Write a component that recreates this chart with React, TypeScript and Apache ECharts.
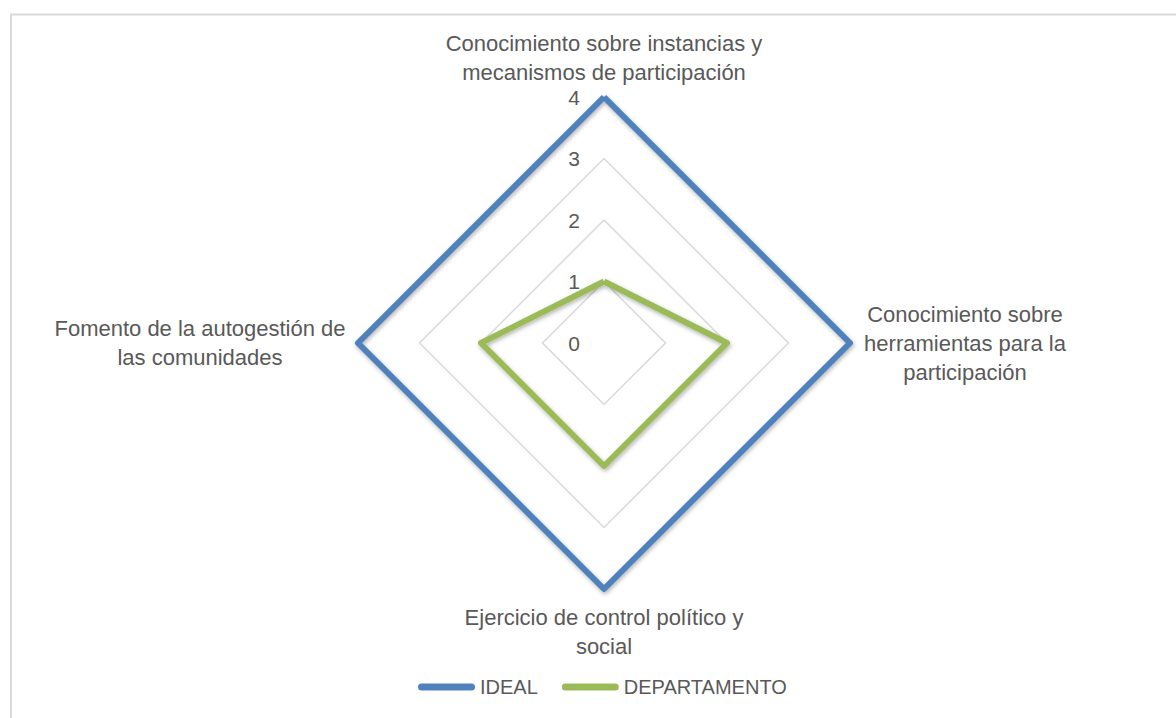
import React, { useEffect, useRef } from "react";
import * as echarts from "echarts";

// Categories in the order they appear clockwise from the top (as in the source chart)
const categories = [
  "Conocimiento sobre instancias y\nmecanismos de participación",
  "Conocimiento sobre\nherramientas para la\nparticipación",
  "Ejercicio de control político y\nsocial",
  "Fomento de la autogestión de\nlas comunidades",
];
const seriesNames = ["IDEAL", "DEPARTAMENTO"];
const idealValues = [4, 4, 4, 4];
const departamentoValues = [1, 2, 2, 2];
const axisMax = 4;
const axisTicks = ["0", "1", "2", "3", "4"];

const FONT = "'Liberation Sans', Arial, sans-serif";
const TEXT = "#595959";

// ECharts radar runs counter-clockwise; reorder so that the drawing runs clockwise
const order = [0, 3, 2, 1];
// per-category layout of the names (centred multi-line blocks)
const nameLayout = [
  { gap: 10 },
  { gap: 115 },
  { gap: 14 },
  { gap: 158 },
];

export default function App() {
  const ref = useRef<HTMLDivElement>(null);
  useEffect(() => {
    if (!ref.current) return;
    const chart = echarts.init(ref.current, undefined, { renderer: "svg" });
    const indicator = order.map((i, k) => {
      const ind: any = {
        name: categories[i],
        min: 0,
        max: axisMax,
        nameGap: nameLayout[i].gap,
        nameTextStyle: { align: "center" },
      };
      if (k === 0) {
        ind.axisLabel = {
          show: true,
          color: TEXT,
          fontSize: 21,
          fontFamily: FONT,
          margin: 24,
          formatter: (v: number) => axisTicks[Math.round(v)] ?? String(v),
        };
      }
      return ind;
    });
    const reorder = (arr: number[]) => order.map((i) => arr[i]);
    const shadow = {
      shadowBlur: 4,
      shadowColor: "rgba(0,0,0,0.3)",
      shadowOffsetX: 1,
      shadowOffsetY: 2,
    };
    chart.setOption({
      animation: false,
      backgroundColor: "#ffffff",
      graphic: [
        {
          type: "rect",
          shape: { x: 11, y: 14.5, width: 1200, height: 800 },
          style: { fill: "none", stroke: "#d9d9d9", lineWidth: 2 },
          silent: true,
          z: -10,
        },
      ],
      legend: {
        data: seriesNames,
        left: 418,
        top: 675,
        padding: 0,
        itemWidth: 57,
        itemHeight: 7,
        itemGap: 24,
        icon: "path://M3.5,0 L53.5,0 A3.5,3.5 0 0 1 53.5,7 L3.5,7 A3.5,3.5 0 0 1 3.5,0 Z",
        textStyle: { color: TEXT, fontSize: 20, fontFamily: FONT, lineHeight: 24 },
      },
      radar: {
        center: [604, 343],
        radius: 246,
        shape: "polygon",
        splitNumber: 4,
        indicator,
        axisName: {
          color: TEXT,
          fontSize: 22,
          fontFamily: FONT,
          lineHeight: 29,
        },
        axisLine: { show: false },
        axisTick: { show: false },
        axisLabel: { show: false },
        splitArea: { show: false },
        splitLine: { lineStyle: { color: "#d9d9d9", width: 1.5 } },
      },
      series: [
        {
          type: "radar",
          symbol: "none",
          data: [
            {
              name: seriesNames[0],
              value: reorder(idealValues),
              itemStyle: { color: "#4f81bd" },
              lineStyle: { color: "#4f81bd", width: 6, join: "round", ...shadow },
            },
            {
              name: seriesNames[1],
              value: reorder(departamentoValues),
              itemStyle: { color: "#9bbb59" },
              lineStyle: { color: "#9bbb59", width: 6, join: "round", ...shadow },
            },
          ],
        },
      ],
    });
    return () => chart.dispose();
  }, []);
  return (
    <div
      ref={ref}
      style={{ position: "fixed", left: 0, top: 0, width: 1176, height: 718 }}
    />
  );
}
